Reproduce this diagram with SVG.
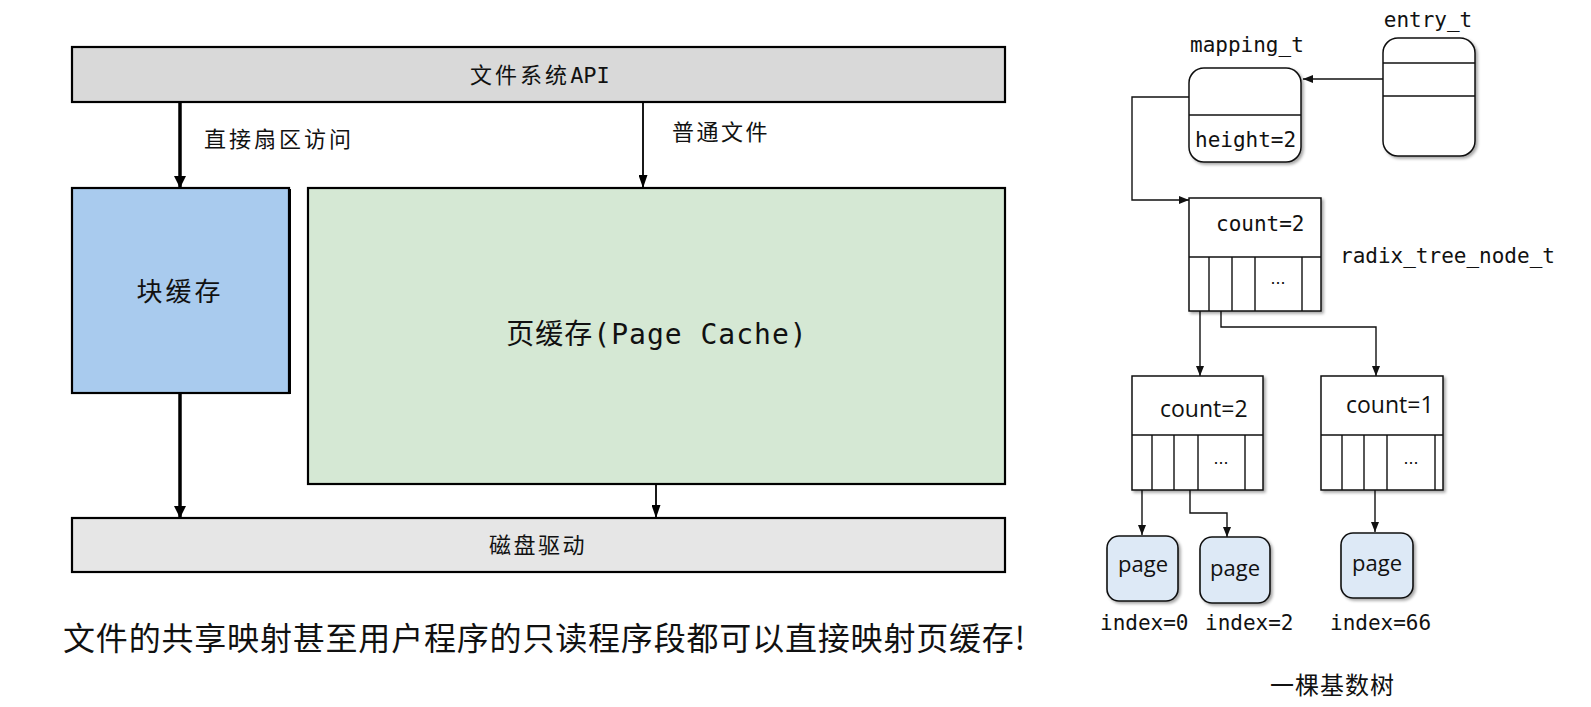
<svg xmlns="http://www.w3.org/2000/svg" width="1591" height="707" viewBox="0 0 1591 707">
<style>
.box{stroke:#000;stroke-width:2.2}
.cjk{font-family:"DejaVu Sans Mono","Noto Sans CJK SC",sans-serif;fill:#111}
.mono{font-family:"DejaVu Sans Mono",monospace;font-size:21px;fill:#111}
.sans{font-family:"Open Sans","Noto Sans",sans-serif;fill:#111}
.node{fill:#fff;stroke:#111;stroke-width:1.5}
.pg{fill:#dde9f6;stroke:#111;stroke-width:1.6}
.ln{fill:none;stroke:#111;stroke-width:1.4}
.dots{font-family:"Liberation Sans",sans-serif;font-size:18px;fill:#111;text-anchor:middle}
</style>
<defs>
<marker id="ahThick" markerUnits="userSpaceOnUse" viewBox="0 0 12 12" refX="12" refY="6" markerWidth="12" markerHeight="12" orient="auto"><path d="M0,0 L12,6 L0,12 z" fill="#000"/></marker>
<marker id="ahThin" markerUnits="userSpaceOnUse" viewBox="0 0 13 9" refX="13" refY="4.5" markerWidth="13" markerHeight="9" orient="auto"><path d="M0,0 L13,4.5 L0,9 z" fill="#000"/></marker>
<marker id="ahSmall" markerUnits="userSpaceOnUse" viewBox="0 0 10 8" refX="10" refY="4" markerWidth="10" markerHeight="8" orient="auto"><path d="M0,0 L10,4 L0,8 z" fill="#111"/></marker>
<filter id="sh" x="-10%" y="-10%" width="130%" height="130%"><feDropShadow dx="2" dy="2" stdDeviation="1.5" flood-color="#000" flood-opacity="0.35"/></filter>
</defs>

<g id="connectors">
<line x1="180" y1="102" x2="180" y2="188" stroke="#000" stroke-width="3.5" marker-end="url(#ahThick)"/>
<line x1="643" y1="102" x2="643" y2="188" stroke="#000" stroke-width="1.8" marker-end="url(#ahThin)"/>
<line x1="180" y1="393" x2="180" y2="518" stroke="#000" stroke-width="3.5" marker-end="url(#ahThick)"/>
<line x1="656" y1="484" x2="656" y2="518" stroke="#000" stroke-width="1.8" marker-end="url(#ahThin)"/>
<path class="ln" d="M1383,79 H1303" marker-end="url(#ahSmall)"/>
<path class="ln" d="M1189,97 H1132 V200 H1189" marker-end="url(#ahSmall)"/>
<path class="ln" d="M1200,289 V376" marker-end="url(#ahSmall)"/>
<path class="ln" d="M1221,290 V327 H1376 V376" marker-end="url(#ahSmall)"/>
<path class="ln" d="M1142,468 V535" marker-end="url(#ahSmall)"/>
<path class="ln" d="M1190,471 V513 H1227 V537" marker-end="url(#ahSmall)"/>
<path class="ln" d="M1375,463 V532" marker-end="url(#ahSmall)"/>
</g>

<g id="fs-api">
<rect class="box" x="72" y="47" width="933" height="55" fill="#d9d9d9"/>
<text class="cjk" x="540" y="75" font-size="22" text-anchor="middle" dominant-baseline="central"><tspan letter-spacing="3">文件系统</tspan>API</text>
</g>
<g id="label-direct"><text class="cjk" x="204" y="139" font-size="22" letter-spacing="3" dominant-baseline="central">直接扇区访问</text></g>
<g id="label-normal"><text class="cjk" x="672" y="132" font-size="22" letter-spacing="2.5" dominant-baseline="central">普通文件</text></g>
<g id="block-cache">
<rect class="box" x="72" y="188" width="217" height="205" fill="#a9cbee"/>
<line x1="290" y1="189" x2="290" y2="394" stroke="#000" stroke-width="2"/>
<text class="cjk" x="180" y="292" font-size="26" letter-spacing="3" text-anchor="middle" dominant-baseline="central">块缓存</text>
</g>
<g id="page-cache">
<rect class="box" x="308" y="188" width="697" height="296" fill="#d5e8d4"/>
<text class="cjk" x="657" y="334" font-size="28" letter-spacing="1" text-anchor="middle" dominant-baseline="central">页缓存(Page Cache)</text>
</g>
<g id="disk">
<rect class="box" x="72" y="518" width="933" height="54" fill="#e6e6e6"/>
<text class="cjk" x="538" y="545" font-size="22" letter-spacing="2.5" text-anchor="middle" dominant-baseline="central">磁盘驱动</text>
</g>
<g id="caption-left"><text x="63" y="636" font-family="Noto Sans CJK SC,sans-serif" font-size="32" fill="#111" textLength="962" dominant-baseline="central">文件的共享映射甚至用户程序的只读程序段都可以直接映射页缓存!</text></g>

<g id="entry_t">
<text class="mono" x="1428" y="27" text-anchor="middle">entry_t</text>
<rect class="node" x="1383" y="38" width="92" height="118" rx="15" filter="url(#sh)"/>
<line class="ln" x1="1383" y1="63" x2="1475" y2="63"/>
<line class="ln" x1="1383" y1="96" x2="1475" y2="96"/>
</g>
<g id="mapping_t">
<text class="mono" x="1190" y="52">mapping_t</text>
<rect class="node" x="1189" y="68" width="112" height="94" rx="15" filter="url(#sh)"/>
<line class="ln" x1="1189" y1="115" x2="1301" y2="115"/>
<text class="mono" x="1195" y="147">height=2</text>
</g>
<g id="radix-root">
<rect class="node" x="1189" y="198" width="132" height="113" filter="url(#sh)"/>
<path class="ln" d="M1189,257 H1321 M1209,257 V311 M1232,257 V311 M1255,257 V311 M1302,257 V311"/>
<text class="mono" x="1216" y="231">count=2</text>
<text class="dots" x="1278" y="284">...</text>
<text class="mono" x="1340" y="263" font-size="21.6">radix_tree_node_t</text>
</g>
<g id="radix-node-a">
<rect class="node" x="1132" y="376" width="131" height="114" filter="url(#sh)"/>
<path class="ln" d="M1132,435 H1263 M1152,435 V490 M1174,435 V490 M1198,435 V490 M1245,435 V490"/>
<text class="sans" x="1160" y="417" font-size="23">count=2</text>
<text class="dots" x="1221" y="464">...</text>
</g>
<g id="radix-node-b">
<rect class="node" x="1321" y="376" width="122" height="114" filter="url(#sh)"/>
<path class="ln" d="M1321,435 H1443 M1342,435 V490 M1364,435 V490 M1387,435 V490 M1435,435 V490"/>
<text class="sans" x="1346" y="413" font-size="23">count=1</text>
<text class="dots" x="1411" y="464">...</text>
</g>
<g id="page0">
<rect class="pg" x="1107" y="536" width="71" height="65" rx="12" filter="url(#sh)"/>
<text class="sans" x="1143" y="572" font-size="22" text-anchor="middle">page</text>
<text class="mono" x="1100" y="630">index=0</text>
</g>
<g id="page2">
<rect class="pg" x="1200" y="537" width="70" height="66" rx="12" filter="url(#sh)"/>
<text class="sans" x="1235" y="576" font-size="22" text-anchor="middle">page</text>
<text class="mono" x="1205" y="630">index=2</text>
</g>
<g id="page66">
<rect class="pg" x="1341" y="533" width="72" height="65" rx="12" filter="url(#sh)"/>
<text class="sans" x="1377" y="571" font-size="22" text-anchor="middle">page</text>
<text class="mono" x="1330" y="630">index=66</text>
</g>
<g id="caption-right"><text x="1270" y="683" font-family="Noto Sans CJK SC,sans-serif" font-size="24" letter-spacing="1" fill="#111" dominant-baseline="central">一棵基数树</text></g>
</svg>
